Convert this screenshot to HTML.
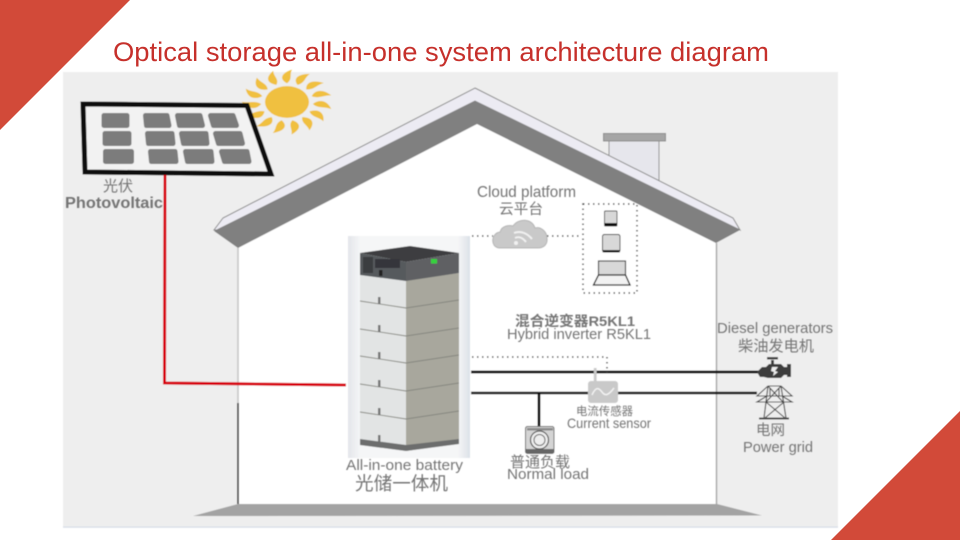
<!DOCTYPE html>
<html><head><meta charset="utf-8"><style>
html,body{margin:0;padding:0;background:#fff;width:960px;height:540px;overflow:hidden}
svg{display:block}
text{font-family:"Liberation Sans","Noto Sans CJK SC",sans-serif;fill:#757575}
</style></head><body>
<svg width="960" height="540" viewBox="0 0 960 540" xmlns="http://www.w3.org/2000/svg">
<defs>
<filter id="b" x="-5%" y="-5%" width="110%" height="110%"><feGaussianBlur stdDeviation="0.4"/></filter>
<linearGradient id="bg" x1="0" x2="1" y1="0" y2="0"><stop offset="0" stop-color="#e3e5ea"/><stop offset=".1" stop-color="#f5f6f7"/><stop offset=".9" stop-color="#f5f6f7"/><stop offset="1" stop-color="#dce1e8"/></linearGradient>
<path id="r" d="M287,76 C279,70 281,62 292,57 C289,64 293,70 287,76Z" fill="#f0c040"/>
</defs>
<rect width="960" height="540" fill="#fff"/>
<polygon points="0,0 130,0 0,130" fill="#d24a39"/>
<polygon points="960,411 960,540 831,540" fill="#d24a39"/>

<g filter="url(#b)">
<rect x="63" y="72" width="775" height="455" fill="#eeeeee"/>
<rect x="63" y="526.5" width="775" height="1.2" fill="#d5dce6"/>
<!-- house -->
<polygon points="477,124 716,243 716,504 238,504 238,248" fill="#fff"/>
<line x1="238" y1="248" x2="238" y2="403" stroke="#c6c6c6" stroke-width="1.6"/>
<line x1="238" y1="403" x2="238" y2="504" stroke="#444" stroke-width="1.800"/>
<line x1="716.5" y1="243" x2="716.5" y2="504" stroke="#a3a3a3" stroke-width="1.4"/>
<polygon points="238,504 717,504 762,515.500 193,516" fill="#a3a3a3"/>
<!-- chimney -->
<polygon points="609,141 659,141 659,182 609,157" fill="#e6e6ec" stroke="#8f8f8f" stroke-width="1"/>
<rect x="603.500" y="133.500" width="62" height="7.500" fill="#a5a5a5" stroke="#8a8a8a" stroke-width="1"/>
<!-- roof -->
<polygon points="475,88 733,218 740,230 475,101 217,230 214,230 223,218" fill="#ecebf3" stroke="#8a8a8a" stroke-width="1"/>
<polygon points="475,101 740,230 716,243 477,124 238,248 214,231" fill="#808080"/>
<!-- sun -->
<g transform="translate(287 102) scale(1 .72) translate(-287 -102)">
<circle cx="287" cy="102" r="22" fill="#f0c040"/>
<use href="#r"/>
<use href="#r" transform="rotate(24 287 102)"/>
<use href="#r" transform="rotate(48 287 102)"/>
<use href="#r" transform="rotate(72 287 102)"/>
<use href="#r" transform="rotate(96 287 102)"/>
<use href="#r" transform="rotate(120 287 102)"/>
<use href="#r" transform="rotate(144 287 102)"/>
<use href="#r" transform="rotate(168 287 102)"/>
<use href="#r" transform="rotate(192 287 102)"/>
<use href="#r" transform="rotate(216 287 102)"/>
<use href="#r" transform="rotate(240 287 102)"/>
<use href="#r" transform="rotate(264 287 102)"/>
<use href="#r" transform="rotate(288 287 102)"/>
<use href="#r" transform="rotate(312 287 102)"/>
<use href="#r" transform="rotate(336 287 102)"/>
</g>
<!-- panel -->
<polygon points="83,104 247,105.500 271,174 85,172" fill="#f2f2f2" stroke="#111" stroke-width="5" stroke-linejoin="miter"/>
<g fill="#7c7c7c" stroke="#7c7c7c" stroke-width="5" stroke-linejoin="round">
<polygon points="104,115.500 127,115.500 127,125.500 104,125.500"/>
<polygon points="105,133.500 129,133.500 129,143.500 105,143.500"/>
<polygon points="105.500,151.500 131.500,151.500 131.500,161.500 105.500,161.500"/>
<polygon points="145.500,115.500 167,115.500 169,125.500 146.500,125.500"/>
<polygon points="177.500,115.500 200,115.500 202.500,125.500 179.500,125.500"/>
<polygon points="210.500,115.500 233,115.500 236.500,125.500 213.500,125.500"/>
<polygon points="147.500,133.500 172,133.500 173,143.500 148.500,143.500"/>
<polygon points="181.500,133.500 206,133.500 207,143.500 183.500,143.500"/>
<polygon points="215.500,133.500 240,133.500 242.500,143.500 218.500,143.500"/>
<polygon points="150.500,151.500 175,151.500 176,161.500 151.500,161.500"/>
<polygon points="185.500,151.500 211,151.500 212,161.500 187.500,161.500"/>
<polygon points="221.500,151.500 247,151.500 249,161.500 224.500,161.500"/>
</g>
<!-- red wire -->
<polyline points="165,175 164.500,383 346,385" fill="none" stroke="#d80010" stroke-width="3"/>
<!-- battery -->
<rect x="348" y="236" width="122" height="222" fill="url(#bg)"/>
<polygon points="360,275 406,280 406,451 360,445" fill="#e2e4e4"/>
<polygon points="406,280 459,273 459,443 406,451" fill="#a8a79d"/>
<polygon points="360,253 410,246 459,253 406,262" fill="#3c3e41"/>
<polygon points="360,253 406,262 406,281 360,275" fill="#565a5d"/>
<polygon points="406,262 459,253 459,273 406,281" fill="#5f6163"/>
<rect x="431" y="259" width="6" height="4.500" fill="#35d23c"/>
<rect x="375" y="259" width="25" height="9" fill="#34363a"/>
<rect x="363" y="257" width="10" height="16" fill="#3a3c40"/>
<rect x="379" y="270" width="3.500" height="6" fill="#222"/>
<g fill="none" stroke="#85867f" stroke-width=".9">
<polyline points="360,301 406,308 459,300"/>
<polyline points="360,329 406,336 459,328"/>
<polyline points="360,356 406,363 459,355"/>
<polyline points="360,384 406,391 459,383"/>
<polyline points="360,412 406,419 459,411"/>
</g>
<g fill="#777">
<rect x="378" y="297" width="2.500" height="7"/><rect x="378" y="325" width="2.500" height="7"/><rect x="378" y="352" width="2.500" height="7"/><rect x="378" y="380" width="2.500" height="7"/><rect x="378" y="408" width="2.500" height="7"/><rect x="378" y="435" width="2.500" height="7"/>
</g>
<polygon points="360,439 406,445 459,439 459,444 406,451 360,445" fill="#6c6d6d"/>
<!-- black lines -->
<line x1="471" y1="372" x2="760" y2="372" stroke="#0c0c0c" stroke-width="2.800"/>
<line x1="471" y1="393" x2="757" y2="393" stroke="#0c0c0c" stroke-width="2.400"/>
<line x1="539" y1="393" x2="539" y2="427" stroke="#0c0c0c" stroke-width="2.800"/>
<!-- dotted -->
<g fill="none" stroke="#333" stroke-width="1.500" stroke-dasharray="1.500 3.500">
<polyline points="472,357 607,357 607,377"/>
<line x1="472" y1="236" x2="493" y2="236"/>
<line x1="547" y1="236" x2="582" y2="236"/>
<rect x="583" y="204" width="54" height="89"/>
</g>
<!-- cloud -->
<path d="M499,248 C490,247 491,233 500,232 C502,225 510,225 513,226 C518,218 532,218 535,228 C541,226 547,232 547,238 C548,245 543,248 538,248 Z" fill="#c9c9c9" stroke="#b4b4b4"/>
<g fill="none" stroke="#f1f1f1" stroke-width="2">
<path d="M514,233 C521,230 528,234 532,239"/><path d="M515,238 C519,236 523,238 526,242"/>
</g><circle cx="516" cy="243" r="2" fill="#f1f1f1"/>
<!-- devices -->
<rect x="604.500" y="211" width="12.500" height="15" rx="1" fill="#d8d8d8" stroke="#444" stroke-width=".9"/>
<rect x="604.500" y="223" width="12.500" height="3" fill="#111"/>
<rect x="602.500" y="234.500" width="17.500" height="17.500" rx="2" fill="#d8d8d8" stroke="#333" stroke-width=".9"/>
<rect x="602.500" y="250" width="17.500" height="2.200" fill="#111"/>
<rect x="598.500" y="261" width="27" height="14" fill="#d8d8d8" stroke="#222" stroke-width="1.100"/>
<polygon points="598.500,275 625.500,275 630,285 593.500,285" fill="#f2f2f2" stroke="#111" stroke-width="1.300"/>
<!-- sensor -->
<rect x="593.800" y="368" width="2.800" height="14" fill="#c9c9c9"/>
<rect x="588" y="381" width="30" height="22" rx="3" fill="#c9c9c9"/>
<path d="M592,395 C596,386 599,388 602,392 C605,396 608,396 614,388" fill="none" stroke="#f2f2f2" stroke-width="1.500"/>
<!-- washer -->
<rect x="525.500" y="426.500" width="28.500" height="27" rx="2" fill="#d4d4d4" stroke="#666"/>
<rect x="525.500" y="449" width="28.500" height="4" fill="#666"/>
<rect x="527" y="428" width="26" height="2.500" fill="#8a8a8a"/>
<circle cx="539.500" cy="440" r="9" fill="#eee" stroke="#555" stroke-width="1.200"/>
<circle cx="539.500" cy="440" r="5.500" fill="none" stroke="#666"/>
<!-- engine -->
<path d="M757,372 L762,367 H766 L769,364 H781 L784,367 H787 V364 H791 V377 H787 V375 L784,375 L781,378 H768 L764,377 L760,377 Z" fill="#3c3c3c"/>
<rect x="771" y="360" width="3" height="5" fill="#3c3c3c"/><rect x="767" y="357" width="11" height="2.500" fill="#3c3c3c"/>
<path d="M772,367 L778,367 L775,371 L778,372 L773,376 L774,372 L771,371 Z" fill="#eee"/>
<!-- tower -->
<g fill="none" stroke="#444" stroke-width="1.100">
<path d="M768,386 H781 M768,386 L764,418 M781,386 L786,418 M768,386 L757,396 H792 L781,386 M767,396 L757,402 H792 L782,396 M768,386 L783,402 M781,386 L766,402 M766,402 L785,418 M784,402 L765,418 M770,388 V396 M779,388 V396"/>
</g>
<rect x="759" y="417.500" width="30" height="2" fill="#444"/>
</g>

<text x="113" y="61" font-size="27" style="fill:#c6302b" textLength="656" lengthAdjust="spacingAndGlyphs">Optical storage all-in-one system architecture diagram</text>

<!-- labels -->
<g filter="url(#b)">
<text x="103" y="191" font-size="15" textLength="30" lengthAdjust="spacingAndGlyphs">光伏</text>
<text x="65" y="208" font-size="16" font-weight="700" textLength="98" lengthAdjust="spacingAndGlyphs">Photovoltaic</text>
<text x="477" y="197" font-size="15.500" textLength="99" lengthAdjust="spacingAndGlyphs">Cloud platform</text>
<text x="499" y="214" font-size="14.500" textLength="44" lengthAdjust="spacingAndGlyphs">云平台</text>
<text x="515" y="326" font-size="14" font-weight="700" textLength="120" lengthAdjust="spacingAndGlyphs">混合逆变器R5KL1</text>
<text x="507" y="339" font-size="15" textLength="144" lengthAdjust="spacingAndGlyphs">Hybrid inverter R5KL1</text>
<text x="717" y="333" font-size="15" textLength="116" lengthAdjust="spacingAndGlyphs">Diesel generators</text>
<text x="738" y="351" font-size="15" textLength="76" lengthAdjust="spacingAndGlyphs">柴油发电机</text>
<text x="576" y="415" font-size="11.500" textLength="57" lengthAdjust="spacingAndGlyphs">电流传感器</text>
<text x="567" y="428" font-size="14" textLength="84" lengthAdjust="spacingAndGlyphs">Current sensor</text>
<text x="756" y="435" font-size="14.500" textLength="29" lengthAdjust="spacingAndGlyphs">电网</text>
<text x="743" y="452" font-size="15" textLength="70" lengthAdjust="spacingAndGlyphs">Power grid</text>
<text x="510" y="467" font-size="15" textLength="60" lengthAdjust="spacingAndGlyphs">普通负载</text>
<text x="507" y="479" font-size="15" textLength="82" lengthAdjust="spacingAndGlyphs">Normal load</text>
<text x="346" y="470" font-size="14.500" textLength="117" lengthAdjust="spacingAndGlyphs">All-in-one battery</text>
<text x="355" y="490" font-size="18.500" textLength="93" lengthAdjust="spacingAndGlyphs">光储一体机</text>
</g>
</svg>
</body></html>
